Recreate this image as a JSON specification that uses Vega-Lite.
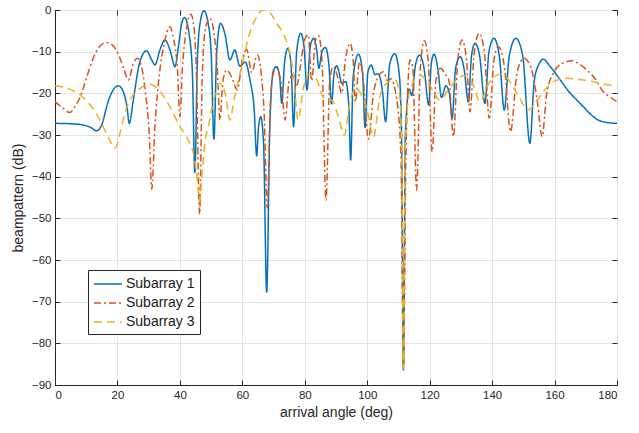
{
  "$schema": "https://vega.github.io/schema/vega-lite/v6.json",
  "width": 562,
  "height": 375,
  "autosize": "none",
  "padding": {"left": 55, "top": 10, "right": 22, "bottom": 48},
  "background": "white",
  "config": {
    "view": {"stroke": "#262626", "strokeWidth": 1},
    "axis": {"domainColor": "#262626", "tickColor": "#262626", "gridColor": "#e3e3e3", "labelFont": "Liberation Sans", "labelFontSize": 11.5, "labelColor": "#262626", "titleFont": "Liberation Sans", "titleFontSize": 14, "titleFontWeight": "normal", "titleColor": "#262626"},
    "legend": {"labelFont": "Liberation Sans", "labelFontSize": 14, "labelColor": "#1a1a1a"}
  },
  "datasets": {
    "bp": [
      {"s":"Subarray 1","a":0,"d":-27.2},{"s":"Subarray 1","a":5,"d":-27.3},{"s":"Subarray 1","a":9,"d":-27.6},{"s":"Subarray 1","a":11.5,"d":-28.2},{"s":"Subarray 1","a":13.3,"d":-29},{"s":"Subarray 1","a":15,"d":-27.5},{"s":"Subarray 1","a":17,"d":-22},{"s":"Subarray 1","a":19,"d":-18.8},{"s":"Subarray 1","a":20.3,"d":-18.2},{"s":"Subarray 1","a":21.8,"d":-19.5},{"s":"Subarray 1","a":23,"d":-23},{"s":"Subarray 1","a":23.8,"d":-27.2},{"s":"Subarray 1","a":25,"d":-22},{"s":"Subarray 1","a":27,"d":-13},{"s":"Subarray 1","a":29.3,"d":-9.8},{"s":"Subarray 1","a":31,"d":-12},{"s":"Subarray 1","a":32,"d":-13.2},{"s":"Subarray 1","a":33.6,"d":-9.6},{"s":"Subarray 1","a":35.2,"d":-7.2},{"s":"Subarray 1","a":37,"d":-10},{"s":"Subarray 1","a":38.4,"d":-13.6},{"s":"Subarray 1","a":39.5,"d":-9},{"s":"Subarray 1","a":40.5,"d":-3.5},{"s":"Subarray 1","a":41.5,"d":-1.8},{"s":"Subarray 1","a":43,"d":-6},{"s":"Subarray 1","a":44,"d":-15},{"s":"Subarray 1","a":44.8,"d":-39},{"s":"Subarray 1","a":45.6,"d":-12},{"s":"Subarray 1","a":46.5,"d":-3},{"s":"Subarray 1","a":47.7,"d":-0.2},{"s":"Subarray 1","a":49,"d":-3},{"s":"Subarray 1","a":50,"d":-10},{"s":"Subarray 1","a":50.9,"d":-31},{"s":"Subarray 1","a":51.8,"d":-10},{"s":"Subarray 1","a":53,"d":-3.2},{"s":"Subarray 1","a":54.5,"d":-6},{"s":"Subarray 1","a":56,"d":-12},{"s":"Subarray 1","a":57.6,"d":-9.6},{"s":"Subarray 1","a":59.2,"d":-13.5},{"s":"Subarray 1","a":60.9,"d":-12.5},{"s":"Subarray 1","a":62.5,"d":-17},{"s":"Subarray 1","a":63.8,"d":-24},{"s":"Subarray 1","a":64.6,"d":-35},{"s":"Subarray 1","a":65.2,"d":-28},{"s":"Subarray 1","a":65.9,"d":-25.6},{"s":"Subarray 1","a":66.8,"d":-32},{"s":"Subarray 1","a":67.8,"d":-67.7},{"s":"Subarray 1","a":68.8,"d":-28},{"s":"Subarray 1","a":70,"d":-14.4},{"s":"Subarray 1","a":71,"d":-13.6},{"s":"Subarray 1","a":72,"d":-16.5},{"s":"Subarray 1","a":72.6,"d":-22.4},{"s":"Subarray 1","a":73.6,"d":-12},{"s":"Subarray 1","a":74.6,"d":-9.2},{"s":"Subarray 1","a":75.6,"d":-13},{"s":"Subarray 1","a":76.4,"d":-28},{"s":"Subarray 1","a":77.4,"d":-10},{"s":"Subarray 1","a":78.7,"d":-5.6},{"s":"Subarray 1","a":79.8,"d":-9},{"s":"Subarray 1","a":80.7,"d":-19.2},{"s":"Subarray 1","a":81.8,"d":-8.5},{"s":"Subarray 1","a":82.9,"d":-6.8},{"s":"Subarray 1","a":83.8,"d":-9.5},{"s":"Subarray 1","a":84.5,"d":-14},{"s":"Subarray 1","a":85.5,"d":-10},{"s":"Subarray 1","a":86.6,"d":-9},{"s":"Subarray 1","a":87.7,"d":-13},{"s":"Subarray 1","a":88.6,"d":-22.5},{"s":"Subarray 1","a":89.4,"d":-15},{"s":"Subarray 1","a":90.2,"d":-13.4},{"s":"Subarray 1","a":91,"d":-15},{"s":"Subarray 1","a":91.8,"d":-17.6},{"s":"Subarray 1","a":93.1,"d":-17.2},{"s":"Subarray 1","a":94.1,"d":-23},{"s":"Subarray 1","a":94.7,"d":-36},{"s":"Subarray 1","a":95.5,"d":-16},{"s":"Subarray 1","a":97.2,"d":-10.6},{"s":"Subarray 1","a":98.5,"d":-15},{"s":"Subarray 1","a":99.3,"d":-28.2},{"s":"Subarray 1","a":100.2,"d":-15},{"s":"Subarray 1","a":101.3,"d":-13.2},{"s":"Subarray 1","a":102.5,"d":-15.5},{"s":"Subarray 1","a":103.5,"d":-15.3},{"s":"Subarray 1","a":104.8,"d":-19},{"s":"Subarray 1","a":105.9,"d":-26.8},{"s":"Subarray 1","a":107.2,"d":-13},{"s":"Subarray 1","a":108.8,"d":-10.5},{"s":"Subarray 1","a":110.2,"d":-15},{"s":"Subarray 1","a":111,"d":-30},{"s":"Subarray 1","a":111.6,"d":-86.4},{"s":"Subarray 1","a":112.2,"d":-30},{"s":"Subarray 1","a":113.5,"d":-19},{"s":"Subarray 1","a":114.3,"d":-20.5},{"s":"Subarray 1","a":115.5,"d":-13},{"s":"Subarray 1","a":116.8,"d":-10.8},{"s":"Subarray 1","a":118.2,"d":-14},{"s":"Subarray 1","a":119.7,"d":-22.8},{"s":"Subarray 1","a":120.5,"d":-13},{"s":"Subarray 1","a":121.4,"d":-10.6},{"s":"Subarray 1","a":122.6,"d":-14},{"s":"Subarray 1","a":123.8,"d":-21},{"s":"Subarray 1","a":125.2,"d":-18.2},{"s":"Subarray 1","a":126.3,"d":-20},{"s":"Subarray 1","a":127.2,"d":-26},{"s":"Subarray 1","a":128.3,"d":-14},{"s":"Subarray 1","a":129.8,"d":-11.2},{"s":"Subarray 1","a":131,"d":-14},{"s":"Subarray 1","a":132.4,"d":-22},{"s":"Subarray 1","a":133.4,"d":-11},{"s":"Subarray 1","a":134.5,"d":-8},{"s":"Subarray 1","a":136,"d":-11},{"s":"Subarray 1","a":137.7,"d":-22.4},{"s":"Subarray 1","a":139,"d":-10},{"s":"Subarray 1","a":140.6,"d":-6.8},{"s":"Subarray 1","a":142.3,"d":-11},{"s":"Subarray 1","a":143.9,"d":-24},{"s":"Subarray 1","a":145.5,"d":-11},{"s":"Subarray 1","a":147.6,"d":-6.8},{"s":"Subarray 1","a":149.8,"d":-11},{"s":"Subarray 1","a":152.1,"d":-32},{"s":"Subarray 1","a":153.5,"d":-17},{"s":"Subarray 1","a":155,"d":-13},{"s":"Subarray 1","a":156.4,"d":-11.8},{"s":"Subarray 1","a":158.5,"d":-13.5},{"s":"Subarray 1","a":160.7,"d":-15.6},{"s":"Subarray 1","a":163,"d":-18},{"s":"Subarray 1","a":165,"d":-20},{"s":"Subarray 1","a":167,"d":-21.5},{"s":"Subarray 1","a":169.2,"d":-23.2},{"s":"Subarray 1","a":171.5,"d":-25},{"s":"Subarray 1","a":173.5,"d":-26.2},{"s":"Subarray 1","a":176.7,"d":-27},{"s":"Subarray 1","a":180,"d":-27.2},

      {"s":"Subarray 2","a":0,"d":-22},{"s":"Subarray 2","a":2.5,"d":-23.5},{"s":"Subarray 2","a":4.8,"d":-24.6},{"s":"Subarray 2","a":6.5,"d":-23},{"s":"Subarray 2","a":8,"d":-21},{"s":"Subarray 2","a":10,"d":-16.5},{"s":"Subarray 2","a":12,"d":-12},{"s":"Subarray 2","a":14,"d":-9},{"s":"Subarray 2","a":16.5,"d":-7.8},{"s":"Subarray 2","a":18.5,"d":-8.5},{"s":"Subarray 2","a":20.5,"d":-11},{"s":"Subarray 2","a":22,"d":-14},{"s":"Subarray 2","a":23.5,"d":-16.8},{"s":"Subarray 2","a":25,"d":-13},{"s":"Subarray 2","a":26.4,"d":-11.6},{"s":"Subarray 2","a":27.5,"d":-13},{"s":"Subarray 2","a":29,"d":-20},{"s":"Subarray 2","a":30.2,"d":-30},{"s":"Subarray 2","a":31,"d":-43},{"s":"Subarray 2","a":32,"d":-28},{"s":"Subarray 2","a":33.5,"d":-15},{"s":"Subarray 2","a":35,"d":-8},{"s":"Subarray 2","a":36.8,"d":-4},{"s":"Subarray 2","a":38,"d":-7},{"s":"Subarray 2","a":39.2,"d":-14},{"s":"Subarray 2","a":40,"d":-25.6},{"s":"Subarray 2","a":40.8,"d":-14},{"s":"Subarray 2","a":42,"d":-5},{"s":"Subarray 2","a":43.5,"d":-1},{"s":"Subarray 2","a":44.3,"d":-3},{"s":"Subarray 2","a":45.3,"d":-15},{"s":"Subarray 2","a":46.3,"d":-49},{"s":"Subarray 2","a":47.2,"d":-15},{"s":"Subarray 2","a":48.3,"d":-4},{"s":"Subarray 2","a":49.6,"d":-2},{"s":"Subarray 2","a":51,"d":-6},{"s":"Subarray 2","a":52,"d":-14},{"s":"Subarray 2","a":52.8,"d":-26.4},{"s":"Subarray 2","a":53.8,"d":-17},{"s":"Subarray 2","a":55,"d":-14.4},{"s":"Subarray 2","a":56.5,"d":-16},{"s":"Subarray 2","a":58.4,"d":-19.2},{"s":"Subarray 2","a":60,"d":-12},{"s":"Subarray 2","a":61.4,"d":-9.5},{"s":"Subarray 2","a":63,"d":-15},{"s":"Subarray 2","a":64.8,"d":-10.8},{"s":"Subarray 2","a":66,"d":-15},{"s":"Subarray 2","a":67,"d":-25},{"s":"Subarray 2","a":68,"d":-47.5},{"s":"Subarray 2","a":69,"d":-22},{"s":"Subarray 2","a":70,"d":-15},{"s":"Subarray 2","a":71,"d":-14},{"s":"Subarray 2","a":72.5,"d":-18},{"s":"Subarray 2","a":73.7,"d":-26.4},{"s":"Subarray 2","a":75,"d":-17},{"s":"Subarray 2","a":76.3,"d":-15.6},{"s":"Subarray 2","a":77.5,"d":-18},{"s":"Subarray 2","a":78.5,"d":-14},{"s":"Subarray 2","a":80,"d":-7},{"s":"Subarray 2","a":81.1,"d":-6},{"s":"Subarray 2","a":82.2,"d":-17},{"s":"Subarray 2","a":83.5,"d":-7},{"s":"Subarray 2","a":84.4,"d":-6.2},{"s":"Subarray 2","a":85.5,"d":-12},{"s":"Subarray 2","a":86.8,"d":-45.6},{"s":"Subarray 2","a":88,"d":-17},{"s":"Subarray 2","a":89.1,"d":-13.6},{"s":"Subarray 2","a":90.5,"d":-16},{"s":"Subarray 2","a":91.8,"d":-20},{"s":"Subarray 2","a":93,"d":-12},{"s":"Subarray 2","a":94.5,"d":-8},{"s":"Subarray 2","a":95.5,"d":-12},{"s":"Subarray 2","a":96.2,"d":-22},{"s":"Subarray 2","a":97.5,"d":-12.5},{"s":"Subarray 2","a":98.5,"d":-15},{"s":"Subarray 2","a":100.4,"d":-31},{"s":"Subarray 2","a":102,"d":-20},{"s":"Subarray 2","a":103.5,"d":-16},{"s":"Subarray 2","a":105.2,"d":-14.8},{"s":"Subarray 2","a":106.5,"d":-17},{"s":"Subarray 2","a":107.5,"d":-16.5},{"s":"Subarray 2","a":109.4,"d":-21.2},{"s":"Subarray 2","a":110.8,"d":-35},{"s":"Subarray 2","a":111.6,"d":-86},{"s":"Subarray 2","a":112.4,"d":-35},{"s":"Subarray 2","a":113.7,"d":-12},{"s":"Subarray 2","a":114.6,"d":-14},{"s":"Subarray 2","a":115.8,"d":-43.2},{"s":"Subarray 2","a":117,"d":-14},{"s":"Subarray 2","a":118.3,"d":-7.4},{"s":"Subarray 2","a":119.5,"d":-12},{"s":"Subarray 2","a":120.8,"d":-34},{"s":"Subarray 2","a":122,"d":-17},{"s":"Subarray 2","a":123.5,"d":-14},{"s":"Subarray 2","a":125,"d":-15.5},{"s":"Subarray 2","a":126.2,"d":-17},{"s":"Subarray 2","a":127.6,"d":-30.4},{"s":"Subarray 2","a":129,"d":-12},{"s":"Subarray 2","a":130.4,"d":-7.2},{"s":"Subarray 2","a":131.8,"d":-12},{"s":"Subarray 2","a":132.9,"d":-24.4},{"s":"Subarray 2","a":134.3,"d":-10},{"s":"Subarray 2","a":135.9,"d":-5.6},{"s":"Subarray 2","a":137.5,"d":-10},{"s":"Subarray 2","a":139.1,"d":-26},{"s":"Subarray 2","a":140.6,"d":-12},{"s":"Subarray 2","a":142,"d":-8.8},{"s":"Subarray 2","a":144,"d":-14},{"s":"Subarray 2","a":145.9,"d":-29.2},{"s":"Subarray 2","a":148,"d":-15},{"s":"Subarray 2","a":150.2,"d":-11.6},{"s":"Subarray 2","a":152.5,"d":-14},{"s":"Subarray 2","a":154.5,"d":-22},{"s":"Subarray 2","a":156,"d":-30.4},{"s":"Subarray 2","a":157.5,"d":-20},{"s":"Subarray 2","a":159.6,"d":-15.2},{"s":"Subarray 2","a":162,"d":-13},{"s":"Subarray 2","a":165.5,"d":-12.2},{"s":"Subarray 2","a":168,"d":-13},{"s":"Subarray 2","a":170.3,"d":-14.4},{"s":"Subarray 2","a":173,"d":-16.5},{"s":"Subarray 2","a":175.6,"d":-19.6},{"s":"Subarray 2","a":178,"d":-21},{"s":"Subarray 2","a":180,"d":-22},

      {"s":"Subarray 3","a":0,"d":-18.2},{"s":"Subarray 3","a":4,"d":-18.8},{"s":"Subarray 3","a":8,"d":-20.4},{"s":"Subarray 3","a":11,"d":-22.5},{"s":"Subarray 3","a":14.4,"d":-26.4},{"s":"Subarray 3","a":17,"d":-30.5},{"s":"Subarray 3","a":19.2,"d":-33.2},{"s":"Subarray 3","a":21,"d":-29},{"s":"Subarray 3","a":22.5,"d":-24.5},{"s":"Subarray 3","a":24,"d":-21.6},{"s":"Subarray 3","a":27,"d":-19},{"s":"Subarray 3","a":30.4,"d":-17.8},{"s":"Subarray 3","a":33.6,"d":-19.5},{"s":"Subarray 3","a":37,"d":-23.5},{"s":"Subarray 3","a":40,"d":-28},{"s":"Subarray 3","a":42.5,"d":-31},{"s":"Subarray 3","a":44.3,"d":-34.4},{"s":"Subarray 3","a":45.5,"d":-40},{"s":"Subarray 3","a":46.3,"d":-46},{"s":"Subarray 3","a":47.2,"d":-38},{"s":"Subarray 3","a":48.2,"d":-31},{"s":"Subarray 3","a":49.1,"d":-28},{"s":"Subarray 3","a":51,"d":-21},{"s":"Subarray 3","a":52.8,"d":-17.6},{"s":"Subarray 3","a":54.5,"d":-20},{"s":"Subarray 3","a":56,"d":-26.4},{"s":"Subarray 3","a":57.5,"d":-21},{"s":"Subarray 3","a":59.8,"d":-13.6},{"s":"Subarray 3","a":62,"d":-6.5},{"s":"Subarray 3","a":64,"d":-2.5},{"s":"Subarray 3","a":66.7,"d":0},{"s":"Subarray 3","a":69,"d":-0.8},{"s":"Subarray 3","a":71,"d":-3.2},{"s":"Subarray 3","a":73,"d":-5.5},{"s":"Subarray 3","a":74.7,"d":-8.8},{"s":"Subarray 3","a":76.3,"d":-15},{"s":"Subarray 3","a":77.9,"d":-26.4},{"s":"Subarray 3","a":79.5,"d":-19},{"s":"Subarray 3","a":81.1,"d":-15.6},{"s":"Subarray 3","a":83.3,"d":-16},{"s":"Subarray 3","a":86,"d":-21},{"s":"Subarray 3","a":88.6,"d":-21.6},{"s":"Subarray 3","a":90.5,"d":-25},{"s":"Subarray 3","a":92.7,"d":-30},{"s":"Subarray 3","a":94.5,"d":-22},{"s":"Subarray 3","a":96.6,"d":-18.8},{"s":"Subarray 3","a":98.5,"d":-21},{"s":"Subarray 3","a":100,"d":-24},{"s":"Subarray 3","a":102,"d":-30.5},{"s":"Subarray 3","a":104,"d":-21},{"s":"Subarray 3","a":106.2,"d":-17.6},{"s":"Subarray 3","a":108.9,"d":-16.8},{"s":"Subarray 3","a":110.3,"d":-20},{"s":"Subarray 3","a":111,"d":-32},{"s":"Subarray 3","a":111.6,"d":-86},{"s":"Subarray 3","a":112.2,"d":-32},{"s":"Subarray 3","a":113.7,"d":-19.2},{"s":"Subarray 3","a":116.9,"d":-15.6},{"s":"Subarray 3","a":120,"d":-18},{"s":"Subarray 3","a":123.3,"d":-21.6},{"s":"Subarray 3","a":126,"d":-19},{"s":"Subarray 3","a":128.6,"d":-16.8},{"s":"Subarray 3","a":131,"d":-15.8},{"s":"Subarray 3","a":134,"d":-18},{"s":"Subarray 3","a":136.1,"d":-22},{"s":"Subarray 3","a":139,"d":-17.5},{"s":"Subarray 3","a":142.5,"d":-15.4},{"s":"Subarray 3","a":145,"d":-16.5},{"s":"Subarray 3","a":148,"d":-20},{"s":"Subarray 3","a":151.6,"d":-24},{"s":"Subarray 3","a":154,"d":-22},{"s":"Subarray 3","a":156.5,"d":-19.5},{"s":"Subarray 3","a":159.6,"d":-17.2},{"s":"Subarray 3","a":163.9,"d":-16.4},{"s":"Subarray 3","a":168,"d":-16.7},{"s":"Subarray 3","a":172.4,"d":-17.2},{"s":"Subarray 3","a":176,"d":-17.8},{"s":"Subarray 3","a":180,"d":-18.2}
    ]
  },
  "data": {"name": "bp"},
  "resolve": {"axis": {"x": "independent", "y": "independent"}},
  "layer": [
    {
      "mark": {"type": "line", "interpolate": "monotone", "strokeWidth": 1.5, "clip": true},
      "encoding": {
        "x": {"field": "a", "type": "quantitative", "scale": {"domain": [0, 180], "nice": false}, "axis": {"title": "arrival angle (deg)", "values": [0,20,40,60,80,100,120,140,160,180], "tickSize": -5, "labelPadding": 9, "titlePadding": 5, "grid": true}},
        "y": {"field": "d", "type": "quantitative", "scale": {"domain": [-90, 0], "nice": false}, "axis": {"title": "beampattern (dB)", "values": [-90,-80,-70,-60,-50,-40,-30,-20,-10,0], "tickSize": -5, "labelPadding": 9, "titlePadding": 6, "grid": true}},
        "color": {"field": "s", "type": "nominal", "scale": {"domain": ["Subarray 1","Subarray 2","Subarray 3"], "range": ["#0072BD","#D95319","#EDB120"]}, "legend": {"title": null, "orient": "none", "legendX": 33, "legendY": 260, "fillColor": "white", "strokeColor": "#262626", "padding": 5, "symbolType": "M-1,0H2.5", "symbolSize": 256, "symbolStrokeWidth": 1.5, "rowPadding": 3, "labelOffset": 15, "cornerRadius": 0}},
        "strokeDash": {"field": "s", "type": "nominal", "scale": {"domain": ["Subarray 1","Subarray 2","Subarray 3"], "range": [[1,0],[7,3,2,3],[8,5]]}, "legend": {"title": null, "orient": "none", "legendX": 33, "legendY": 260, "fillColor": "white", "strokeColor": "#262626", "padding": 5, "symbolType": "M-1,0H2.5", "symbolSize": 256, "symbolStrokeWidth": 1.5, "rowPadding": 3, "labelOffset": 15, "cornerRadius": 0}}
      }
    },
    {
      "mark": {"type": "line", "opacity": 0},
      "encoding": {
        "x": {"field": "a", "type": "quantitative", "scale": {"domain": [0, 180], "nice": false}, "axis": {"orient": "top", "title": null, "labels": false, "grid": false, "domain": false, "values": [0,20,40,60,80,100,120,140,160,180], "tickSize": -5}},
        "y": {"field": "d", "type": "quantitative", "scale": {"domain": [-90, 0], "nice": false}, "axis": {"orient": "right", "title": null, "labels": false, "grid": false, "domain": false, "values": [-90,-80,-70,-60,-50,-40,-30,-20,-10,0], "tickSize": -5}},
        "detail": {"field": "s"}
      }
    }
  ]
}
